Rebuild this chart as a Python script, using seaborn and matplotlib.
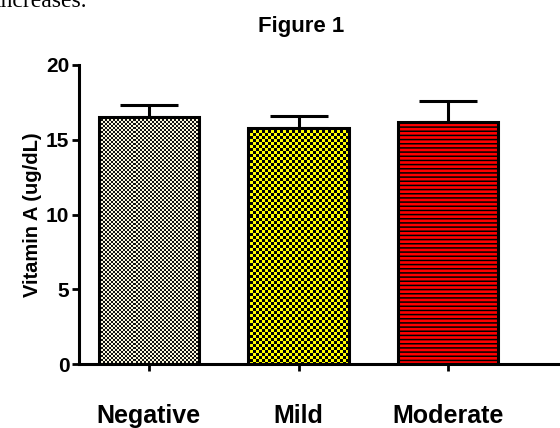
import numpy as np
import pandas as pd
import matplotlib
matplotlib.use("Agg")
import matplotlib.pyplot as plt
import seaborn as sns

# Mean serum vitamin A by severity group, with upper SEM
categories = ["Negative", "Mild", "Moderate"]
means = [16.5, 15.8, 16.2]
sems = [0.8, 0.8, 1.4]
y_ticks = [0, 5, 10, 15, 20]

df = pd.DataFrame({"group": categories, "vitA": means})

sns.set_theme(style="white")
plt.rcParams["font.family"] = ["Liberation Sans", "DejaVu Sans"]
plt.rcParams["hatch.linewidth"] = 1.1

FW, FH = 560, 428
AX_L, AX_B, AX_W, AX_H = 79, 64, 481, 299  # axes box in pixels

fig = plt.figure(figsize=(FW / 100, FH / 100), dpi=100)
ax = fig.add_axes([AX_L / FW, AX_B / FH, AX_W / FW, AX_H / FH])

sns.barplot(data=df, x="group", y="vitA", ax=ax, width=0.67,
            color="white", edgecolor="black", linewidth=2.2,
            errorbar=None, zorder=3)

# one-sided error bars (upper only)
xpos = np.arange(len(categories))
ax.errorbar(xpos, means, yerr=[np.zeros(len(sems)), sems], fmt="none",
            ecolor="black", elinewidth=2.2, capsize=21, capthick=2.2, zorder=2)

# checkerboard textures for the first two bars
yy, xx = np.mgrid[0:AX_H, 0:AX_W]

def rgb(c):
    return np.array(matplotlib.colors.to_rgb(c))

def fill(mask, c_on, c_off):
    img = np.empty((AX_H, AX_W, 3))
    img[mask] = rgb(c_on)
    img[~mask] = rgb(c_off)
    return img

fine = ((xx // 2 + yy // 2) % 2 == 0)
coarse = ((xx // 3 + yy // 3) % 2 == 0)

textures = [
    fill(fine, "#111111", "#fcf8dc"),
    fill(coarse, "#ffff00", "#000000"),
]

bars = list(ax.patches)
for patch, tex in zip(bars[:2], textures):
    patch.set_facecolor("none")
    im = ax.imshow(tex, extent=[0, 1, 0, 1], transform=ax.transAxes,
                   interpolation="none", aspect="auto", zorder=2.5)
    im.set_clip_path(patch)

# horizontal red/black stripes for the third bar
bars[2].set_facecolor("#ff0000")
bars[2].set_hatch("----")

ax.set_xlim(-0.467, 2.747)
ax.set_ylim(0, 20)
ax.set_yticks(y_ticks)
ax.set_yticklabels([str(v) for v in y_ticks])

for side in ["top", "right"]:
    ax.spines[side].set_visible(False)
for side in ["left", "bottom"]:
    ax.spines[side].set_color("black")
    ax.spines[side].set_linewidth(2.2)
    ax.spines[side].set_zorder(4)

ax.tick_params(axis="y", left=True, length=5, width=2, color="black",
               pad=2, labelsize=15, direction="out")
ax.tick_params(axis="x", bottom=True, length=5, width=2, color="black",
               pad=24, labelsize=18, direction="out")
for lab in ax.get_xticklabels() + ax.get_yticklabels():
    lab.set_fontweight("bold")
    lab.set_color("black")

ax.set_xlabel("")
ax.set_ylabel("Vitamin A (ug/dL)", fontsize=14.5, fontweight="bold",
              color="black", labelpad=3)

fig.text(0.537, 0.939, "Figure 1", ha="center", va="center",
         fontsize=16, fontweight="bold", color="black")
fig.text(-0.01, 0.983, "increases.", ha="left", va="baseline",
         fontsize=17, family="Liberation Serif", color="black")

fig.savefig("out.png", dpi=100)
